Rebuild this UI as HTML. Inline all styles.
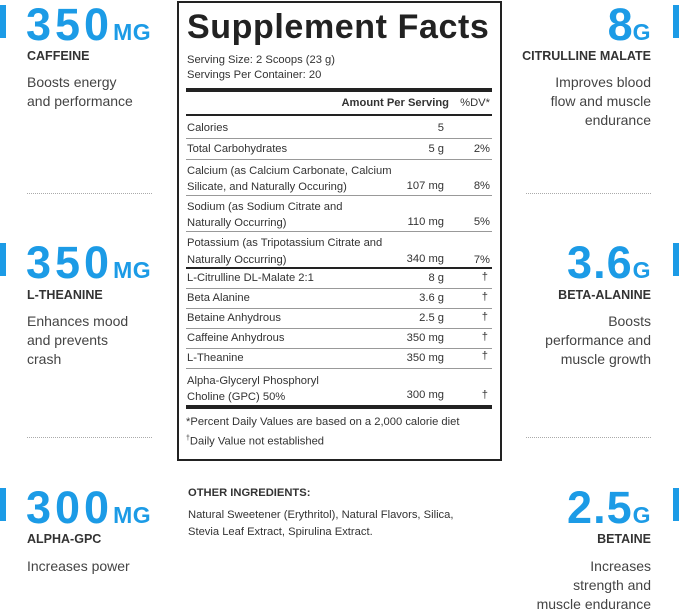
<!DOCTYPE html>
<html><head><meta charset="utf-8"><style>
*{margin:0;padding:0;box-sizing:border-box}
body{width:679px;height:611px;background:#fff;position:relative;overflow:hidden;font-family:"Liberation Sans",Arial,sans-serif;color:#333}
.a{position:absolute;white-space:nowrap}
.num{font-weight:bold;color:#1c9be6;font-size:45px;line-height:1;letter-spacing:4px}
.num small{font-size:23px;letter-spacing:0.5px}
.lab{font-weight:bold;font-size:12.5px;color:#333}
.desc{font-size:14px;line-height:19px;color:#444}
.bar{position:absolute;background:#1c9be6;width:6px;height:33px}
.dot{position:absolute;width:125px;border-top:1px dotted #aaa}
.r{text-align:right}
.t{font-size:11.2px;color:#333}
.hl{position:absolute;left:186px;width:306px;background:#222}
</style></head><body>
<div class="bar" style="left:0;top:5px"></div>
<div class="a num" style="left:26px;top:2px">350<small>MG</small></div>
<div class="a lab" style="left:27px;top:49px">CAFFEINE</div>
<div class="a desc" style="left:27px;top:73px">Boosts energy<br>and performance</div>
<div class="dot" style="left:27px;top:193px"></div>

<div class="bar" style="left:0;top:243px"></div>
<div class="a num" style="left:26px;top:240px">350<small>MG</small></div>
<div class="a lab" style="left:27px;top:288px">L-THEANINE</div>
<div class="a desc" style="left:27px;top:312px">Enhances mood<br>and prevents<br>crash</div>
<div class="dot" style="left:27px;top:437px"></div>

<div class="bar" style="left:0;top:488px"></div>
<div class="a num" style="left:26px;top:485px">300<small>MG</small></div>
<div class="a lab" style="left:27px;top:532px">ALPHA-GPC</div>
<div class="a desc" style="left:27px;top:557px">Increases power</div>

<div class="bar" style="left:673px;top:5px"></div>
<div class="a num r" style="right:28px;top:2px;letter-spacing:0">8<small>G</small></div>
<div class="a lab r" style="right:28px;top:49px">CITRULLINE MALATE</div>
<div class="a desc r" style="right:28px;top:73px">Improves blood<br>flow and muscle<br>endurance</div>
<div class="dot" style="left:526px;top:193px"></div>

<div class="bar" style="left:673px;top:243px"></div>
<div class="a num r" style="right:28px;top:240px;letter-spacing:1px">3.6<small>G</small></div>
<div class="a lab r" style="right:28px;top:288px">BETA-ALANINE</div>
<div class="a desc r" style="right:28px;top:312px">Boosts<br>performance and<br>muscle growth</div>
<div class="dot" style="left:526px;top:437px"></div>

<div class="bar" style="left:673px;top:488px"></div>
<div class="a num r" style="right:28px;top:485px;letter-spacing:1px">2.5<small>G</small></div>
<div class="a lab r" style="right:28px;top:532px">BETAINE</div>
<div class="a desc r" style="right:28px;top:557px">Increases<br>strength and<br>muscle endurance</div>

<div style="position:absolute;left:177px;top:1px;width:325px;height:460px;border:2px solid #222"></div>
<div class="a" style="left:187px;top:8px;font-size:34px;font-weight:bold;color:#222;letter-spacing:0.6px">Supplement Facts</div>
<div class="a t" style="left:187px;top:54px">Serving Size: 2 Scoops (23 g)</div>
<div class="a t" style="left:187px;top:69px">Servings Per Container: 20</div>
<div class="hl" style="top:88px;height:4px"></div>
<div class="a t r" style="right:230px;top:97px;font-weight:bold">Amount Per Serving</div>
<div class="a t r" style="right:189px;top:97px">%DV*</div>
<div class="hl" style="top:114px;height:2px"></div>

<div class="a t" style="left:187px;top:122px">Calories</div><div class="a t r" style="right:235px;top:122px">5</div>
<div class="hl" style="top:138px;height:1px;background:#999"></div>
<div class="a t" style="left:187px;top:143px">Total Carbohydrates</div><div class="a t r" style="right:235px;top:143px">5 g</div><div class="a t r" style="right:189px;top:143px">2%</div>
<div class="hl" style="top:159px;height:1px;background:#999"></div>
<div class="a t" style="left:187px;top:163px;line-height:16px">Calcium (as Calcium Carbonate, Calcium<br>Silicate, and Naturally Occuring)</div><div class="a t r" style="right:235px;top:180px">107 mg</div><div class="a t r" style="right:189px;top:180px">8%</div>
<div class="hl" style="top:195px;height:1px;background:#999"></div>
<div class="a t" style="left:187px;top:199px;line-height:16px">Sodium (as Sodium Citrate and<br>Naturally Occurring)</div><div class="a t r" style="right:235px;top:216px">110 mg</div><div class="a t r" style="right:189px;top:216px">5%</div>
<div class="hl" style="top:231px;height:1px;background:#999"></div>
<div class="a t" style="left:187px;top:235px;line-height:17px">Potassium (as Tripotassium Citrate and<br>Naturally Occurring)</div><div class="a t r" style="right:235px;top:253px">340 mg</div><div class="a t r" style="right:189px;top:254px">7%</div>
<div class="hl" style="top:267px;height:2px"></div>
<div class="a t" style="left:187px;top:272px">L-Citrulline DL-Malate 2:1</div><div class="a t r" style="right:235px;top:272px">8 g</div><div class="a t r" style="right:191px;top:271px">†</div>
<div class="hl" style="top:288px;height:1px;background:#999"></div>
<div class="a t" style="left:187px;top:292px">Beta Alanine</div><div class="a t r" style="right:235px;top:292px">3.6 g</div><div class="a t r" style="right:191px;top:291px">†</div>
<div class="hl" style="top:308px;height:1px;background:#999"></div>
<div class="a t" style="left:187px;top:312px">Betaine Anhydrous</div><div class="a t r" style="right:235px;top:312px">2.5 g</div><div class="a t r" style="right:191px;top:311px">†</div>
<div class="hl" style="top:328px;height:1px;background:#999"></div>
<div class="a t" style="left:187px;top:332px">Caffeine Anhydrous</div><div class="a t r" style="right:235px;top:332px">350 mg</div><div class="a t r" style="right:191px;top:331px">†</div>
<div class="hl" style="top:348px;height:1px;background:#999"></div>
<div class="a t" style="left:187px;top:352px">L-Theanine</div><div class="a t r" style="right:235px;top:352px">350 mg</div><div class="a t r" style="right:191px;top:350px">†</div>
<div class="hl" style="top:368px;height:1px;background:#999"></div>
<div class="a t" style="left:187px;top:373px;line-height:16px">Alpha-Glyceryl Phosphoryl<br>Choline (GPC) 50%</div><div class="a t r" style="right:235px;top:389px">300 mg</div><div class="a t r" style="right:191px;top:389px">†</div>
<div class="hl" style="top:405px;height:4px"></div>
<div class="a t" style="left:186px;top:416px">*Percent Daily Values are based on a 2,000 calorie diet</div>
<div class="a t" style="left:186px;top:435px"><sup style="font-size:7px">†</sup>Daily Value not established</div>

<div class="a t" style="left:188px;top:487px;font-weight:bold">OTHER INGREDIENTS:</div>
<div class="a t" style="left:188px;top:507px;line-height:17px">Natural Sweetener (Erythritol), Natural Flavors, Silica,<br>Stevia Leaf Extract, Spirulina Extract.</div>
</body></html>
